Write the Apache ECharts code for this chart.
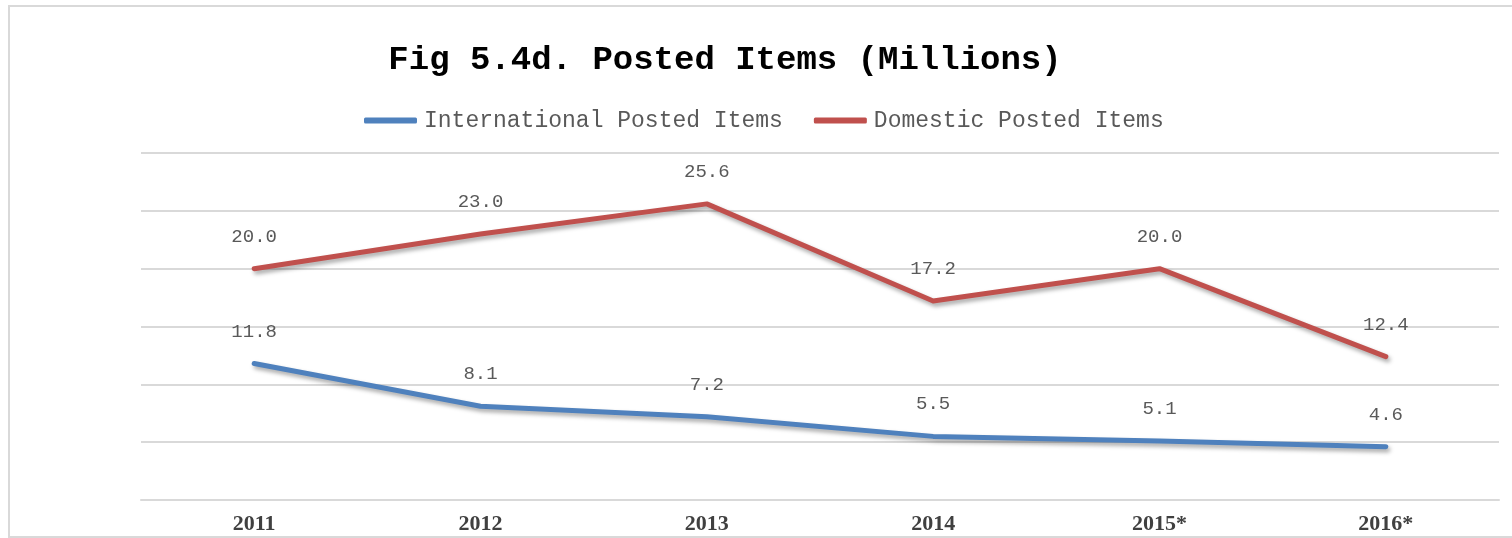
<!DOCTYPE html>
<html>
<head>
<meta charset="utf-8">
<script src="https://cdn.jsdelivr.net/npm/echarts@6/dist/echarts.min.js"></script>
<style>
html,body{margin:0;padding:0;background:#fff;}
#chart{width:1512px;height:538px;}
</style>
</head>
<body>
<div id="chart"></div>
<script>
const categories = ['2011', '2012', '2013', '2014', '2015*', '2016*'];
const international = [11.8, 8.1, 7.2, 5.5, 5.1, 4.6];
const domestic = [20.0, 23.0, 25.6, 17.2, 20.0, 12.4];
const seriesNames = ['International Posted Items', 'Domestic Posted Items'];
const titleText = 'Fig 5.4d. Posted Items (Millions)';

const mono = '"Liberation Mono", "DejaVu Sans Mono", monospace';
const chart = echarts.init(document.getElementById('chart'));

function lineSeries(name, data, color) {
  return {
    name: name,
    type: 'line',
    data: data,
    symbol: 'circle',
    symbolSize: 1,
    showSymbol: true,
    itemStyle: { color: color },
    lineStyle: {
      color: color, width: 5, cap: 'round', join: 'round',
      shadowColor: 'rgba(0,0,0,0.35)', shadowBlur: 4, shadowOffsetX: 2, shadowOffsetY: 3
    },
    label: {
      show: true, position: 'top', distance: 22,
      fontFamily: mono, fontSize: 19, color: '#595959',
      formatter: p => p.value.toFixed(1)
    },
    emphasis: { disabled: true },
    animation: false
  };
}

chart.setOption({
  animation: false,
  graphic: [{
    type: 'rect', silent: true,
    shape: { x: 9, y: 6, width: 1530, height: 531 },
    style: { fill: 'none', stroke: '#d9d9d9', lineWidth: 2 }
  }],
  title: {
    text: titleText, left: 720, textAlign: 'center', top: 38,
    textStyle: { fontFamily: mono, fontSize: 34, fontWeight: 'bold', color: '#000' }
  },
  legend: {
    data: seriesNames,
    left: 359, top: 104,
    itemWidth: 53, itemHeight: 6, itemGap: 31,
    icon: 'roundRect',
    textStyle: { fontFamily: mono, fontSize: 23, color: '#595959', padding: [0, 0, 0, 2] }
  },
  grid: { left: 141, right: 13, top: 153, bottom: 38, containLabel: false },
  xAxis: {
    type: 'category', data: categories, boundaryGap: true,
    axisLine: { lineStyle: { color: '#d9d9d9', width: 2 } },
    axisTick: { show: false },
    axisLabel: { fontFamily: '"Liberation Serif", serif', fontSize: 22, fontWeight: 'bold', color: '#404040', margin: 13 }
  },
  yAxis: {
    type: 'value', min: 0, max: 30, interval: 5,
    axisLabel: { show: false }, axisLine: { show: false }, axisTick: { show: false },
    splitLine: { lineStyle: { color: '#d9d9d9', width: 2 } }
  },
  series: [
    lineSeries(seriesNames[0], international, '#4F81BD'),
    lineSeries(seriesNames[1], domestic, '#C0504D')
  ]
});
</script>
</body>
</html>
